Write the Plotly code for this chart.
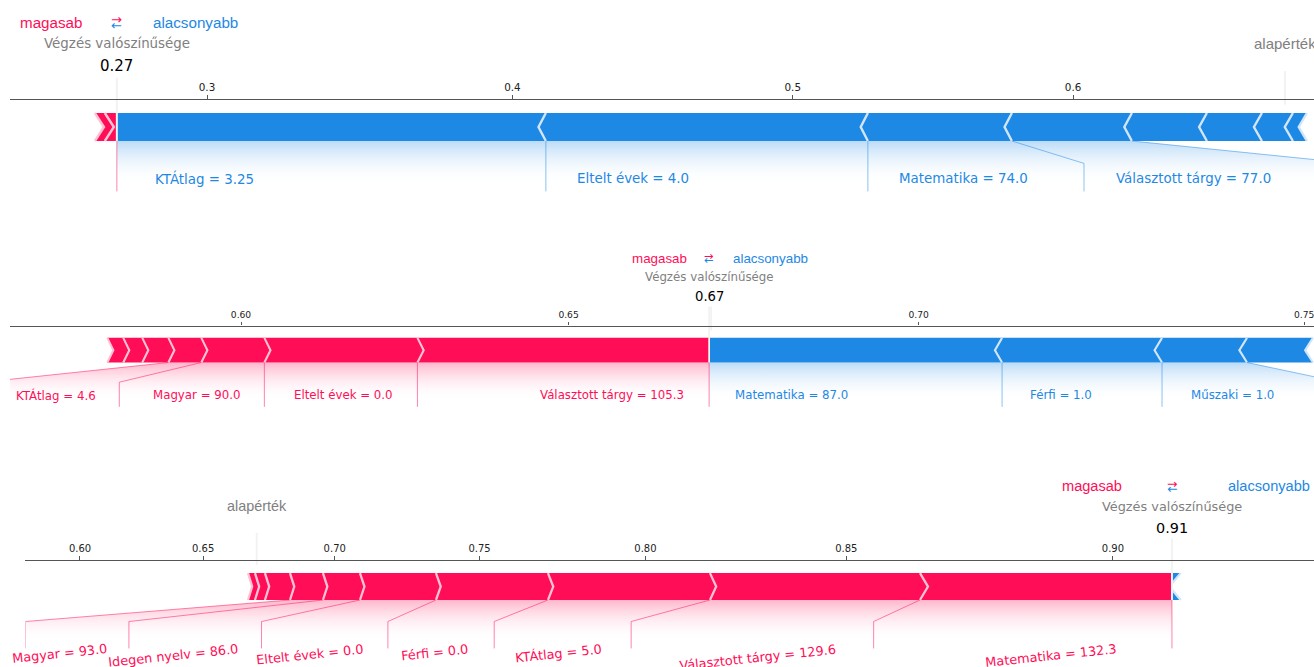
import numpy as np
import plotly.graph_objects as go

FIG_W, FIG_H = 1314, 667

# ---------------------------------------------------------------- data
BASE_VALUE = 0.712                      # expected model output (log-odds)
OUT_NAME = "Végzés valószínűsége"
BASE_NAME = "alapérték"
HIGHER_TEXT = "magasab"
LOWER_TEXT = "alacsonyabb"

# panel 1
p1_features = ["KTÁtlag", "Eltelt évek", "Matematika", "Választott tárgy", "Idegen nyelv",
               "Magyar", "Férfi", "Humán", "Műszaki", "Gazdasági"]
p1_values = ["3.25", "4.0", "74.0", "77.0", "", "", "", "", "", ""]
p1_shap = [-0.6206, -0.4658, -0.2083, -0.1736, -0.1085, -0.0796, -0.0448, -0.0203, 0.0174, 0.0144]
p1_ticks = ["0.2", "0.3", "0.4", "0.5", "0.6", "0.7"]

# panel 2
p2_features = ["Választott tárgy", "Eltelt évek", "Magyar", "KTÁtlag", "Idegen nyelv", "Humán",
               "Gazdasági", "Matematika", "Férfi", "Műszaki", "Természettudományi"]
p2_values = ["105.3", "0.0", "90.0", "4.6", "", "", "", "87.0", "1.0", "1.0", ""]
p2_shap = [0.1902, 0.0998, 0.0411, 0.0215, 0.0170, 0.0124, 0.0104, -0.1910, -0.1043, -0.0554, -0.0430]
p2_ticks = ["0.55", "0.60", "0.65", "0.70", "0.75"]

# panel 3
p3_features = ["Matematika", "Választott tárgy", "KTÁtlag", "Férfi", "Eltelt évek", "Idegen nyelv",
               "Magyar", "Humán", "Gazdasági", "Természettudományi", "Műszaki"]
p3_values = ["132.3", "129.6", "5.0", "0.0", "0.0", "86.0", "93.0", "", "", "", ""]
p3_shap = [0.4371, 0.3643, 0.2810, 0.1943, 0.1318, 0.0642, 0.0572, 0.0434, 0.0173, 0.0121, -0.0151]
p3_ticks = ["0.60", "0.65", "0.70", "0.75", "0.80", "0.85", "0.90", "0.95"]

# ---------------------------------------------------------------- layout / style
PANELS = [
    dict(features=p1_features, values=p1_values, shap=p1_shap, ticks=p1_ticks,
         ref_p=0.3, ref_px=207.0, ppu=691.3, y0=141.0, s=1.0, rot=0),
    dict(features=p2_features, values=p2_values, shap=p2_shap, ticks=p2_ticks,
         ref_p=0.6, ref_px=241.0, ppu=1533.7, y0=362.5, s=0.88, rot=0),
    dict(features=p3_features, values=p3_values, shap=p3_shap, ticks=p3_ticks,
         ref_p=0.6, ref_px=80.0, ppu=576.5, y0=600.0, s=0.96, rot=6),
]

PINK, PINK_LIGHT, PINK_LINE = "#FF0D57", "#FFC3D5", "rgba(255,13,87,0.5)"
BLUE, BLUE_LIGHT, BLUE_LINE = "#1E88E5", "#D1E6FA", "rgba(30,136,229,0.5)"
GREY_TXT = "#808080"
MEAS_F = 1.27
BAR_W = 0.1

DEJAVU = {" ": 651, ".": 651, "=": 1716, "a": 1255, "b": 1300, "c": 1126, "d": 1300, "e": 1260,
          "f": 721, "g": 1300, "h": 1298, "i": 569, "j": 569, "k": 1186, "l": 569, "m": 1995,
          "n": 1298, "o": 1253, "p": 1300, "q": 1300, "r": 842, "s": 1067, "t": 803, "u": 1298,
          "v": 1212, "w": 1675, "x": 1212, "y": 1212, "z": 1075, "á": 1255, "é": 1260, "í": 569,
          "ó": 1253, "ö": 1253, "ő": 1253, "ú": 1298, "ü": 1298, "ű": 1298, "A": 1401, "E": 1294,
          "F": 1178, "G": 1589, "H": 1540, "I": 604, "K": 1290, "M": 1767, "T": 1251, "V": 1401,
          "Á": 1401, "É": 1294}
for _d in "0123456789":
    DEJAVU[_d] = 1303


def text_w(txt, size):
    return sum(DEJAVU.get(c, 1250) for c in txt) / 2048.0 * size


def expit(x):
    return 1.0 / (1.0 + np.exp(-x))


def logit(p):
    return float(np.log(p / (1.0 - p)))


def side_labels(out_p, its, ps, kind, offset, total_effect, xlim, ppp, fs, pad, rot):
    sign = 1 if kind == "pos" else -1
    lines, texts = [], []
    start = pre = box_end = out_p
    if kind == "pos":
        lines.append([(out_p, 0.0), (out_p, -0.18)])
    for (e, v, n), pv in zip(its, ps):
        if total_effect <= 0 or abs(pv - pre) / total_effect < 0.05:
            break
        val = pv
        text = n if v == "" else f"{n} = {v}"
        tx = start - sign * offset
        w = text_w(text, fs)
        if rot:
            th = np.radians(rot)
            w = w * np.cos(th) + 1.164 * fs * np.sin(th)
        be_ = tx - sign * (w + pad) * MEAS_F / ppp
        if be_ > xlim[1]:
            break
        texts.append((tx, text))
        if sign * be_ > sign * val:
            lines.append([(val, 0.0), (val, -0.18)])
            start = box_end = val
        else:
            box_end = be_ - sign * offset
            lines.append([(val, 0.0), (box_end, -0.08), (box_end, -0.18)])
            start = box_end
        pre = pv
    shade = [(out_p, 0.0), (pre, 0.0), (box_end, -0.08), (box_end, -0.2), (out_p, -0.2)]
    return dict(lines=lines, texts=texts, shade=shade, box_end=box_end)


def bars(out_p, ps, kind, sep):
    polys, seps = [], []
    pre = out_p
    for i, pv in enumerate(ps):
        if kind == "pos":
            left, right = pv, pre
            pre = left
            ind = abs(sep)
            spos = left
        else:
            left, right = pre, pv
            pre = right
            ind = -abs(sep)
            spos = right
        if i == 0:
            if kind == "pos":
                pts = [(left, 0), (right, 0), (right, BAR_W), (left, BAR_W), (left + ind, BAR_W / 2)]
            else:
                pts = [(right, 0), (left, 0), (left, BAR_W), (right, BAR_W), (right + ind, BAR_W / 2)]
        else:
            pts = [(left, 0), (right, 0), (right + ind * 0.9, BAR_W / 2), (right, BAR_W),
                   (left, BAR_W), (left + ind * 0.9, BAR_W / 2)]
        polys.append(pts)
        seps.append([(spos, 0), (spos + ind, BAR_W / 2), (spos, BAR_W)])
    return polys, seps


def force_layout(g):
    out_L = BASE_VALUE + float(np.sum(g["shap"]))
    out_p = float(expit(out_L))
    base_p = float(expit(BASE_VALUE))
    items = list(zip(g["shap"], g["values"], g["features"]))
    neg = sorted([it for it in items if it[0] < 0], key=lambda it: it[0])
    pos = sorted([it for it in items if it[0] >= 0], key=lambda it: -it[0])
    neg_p = [float(v) for v in expit(out_L + np.cumsum([abs(it[0]) for it in neg]))] if neg else []
    pos_p = [float(v) for v in expit(out_L - np.cumsum([abs(it[0]) for it in pos]))] if pos else []
    total_neg = max(neg_p) - min(neg_p) if neg_p else 0.0
    total_pos = max(pos_p) - min(pos_p) if pos_p else 0.0
    offset = 0.04 * (total_neg + total_pos)
    padding = 0.2 * max(total_pos, total_neg)
    x0 = (min(min(pos_p), base_p) if pos_p else out_p) - padding
    x1 = (max(max(neg_p), base_p) if neg_p else out_p) + padding
    sep = (x1 - x0) / 200.0
    fs = 13.4 * g["s"]
    pad = 4.5 * g["s"]

    def run(axes_px):
        xlim = [x0, x1]
        res = {}
        for kind, its, ps in (("neg", neg, neg_p), ("pos", pos, pos_p)):
            ppp = axes_px / (xlim[1] - xlim[0])
            r = side_labels(out_p, its, ps, kind, offset, total_neg + total_pos, xlim, ppp,
                            fs, pad, g["rot"])
            if r["box_end"] < xlim[0]:
                xlim[0] = r["box_end"]
            if r["box_end"] > xlim[1]:
                xlim[1] = r["box_end"]
            res[kind] = r
        return res, xlim

    axes_px = g["ppu"] * (logit(x1) - logit(x0))
    for _ in range(25):
        res, xlim = run(axes_px)
        axes_px = g["ppu"] * (logit(xlim[1]) - logit(xlim[0]))
    nb, ns = bars(out_p, neg_p, "neg", sep)
    pb, pss = bars(out_p, pos_p, "pos", sep)
    return dict(out_p=out_p, base_p=base_p, offset=offset, xlim=xlim, labels=res,
                neg_bars=nb, neg_seps=ns, pos_bars=pb, pos_seps=pss, fs=fs)


fig = go.Figure()
annotations = []
layout_axes = {}

for i, g in enumerate(PANELS):
    sfx = "" if i == 0 else str(i + 1)
    xa, ya = "x" + sfx, "y" + sfx
    s = g["s"]
    ys = 280.0 * s
    y0 = g["y0"]
    L_ref = logit(g["ref_p"])

    def px_of(L, g=g, L_ref=L_ref):
        return g["ref_px"] + (L - L_ref) * g["ppu"]

    def L_of(px, g=g, L_ref=L_ref):
        return L_ref + (px - g["ref_px"]) / g["ppu"]

    F = force_layout(g)
    out_p, base_p = F["out_p"], F["base_p"]

    def tr(pts):
        return [logit(p) for p, _ in pts], [y for _, y in pts]

    common = dict(xaxis=xa, yaxis=ya, hoverinfo="skip", showlegend=False)

    # label shading
    for kind, col in (("neg", "rgba(30,136,229,0.3)"), ("pos", "rgba(255,13,87,0.3)")):
        r = F["labels"][kind]
        if abs(r["box_end"] - out_p) < 1e-9:
            continue
        x, y = tr(r["shade"])
        fig.add_trace(go.Scatter(x=x, y=y, mode="lines", line=dict(width=0), fill="toself",
                                 fillgradient=dict(type="vertical", start=-0.155, stop=0.0,
                                                   colorscale=[[0, "rgba(255,255,255,0)"], [1, col]]),
                                 **common))
    # bars + separators
    for polys, seps, col, lcol in ((F["neg_bars"], F["neg_seps"], BLUE, BLUE_LIGHT),
                                   (F["pos_bars"], F["pos_seps"], PINK, PINK_LIGHT)):
        for pts in polys:
            x, y = tr(pts)
            fig.add_trace(go.Scatter(x=x, y=y, mode="lines", line=dict(width=0), fill="toself",
                                     fillcolor=col, **common))
        for pts in seps:
            x, y = tr(pts)
            fig.add_trace(go.Scatter(x=x, y=y, mode="lines", line=dict(width=2.4 * s, color=lcol),
                                     **common))
    # leader lines
    for kind, col in (("neg", BLUE_LINE), ("pos", PINK_LINE)):
        for pts in F["labels"][kind]["lines"]:
            x, y = tr(pts)
            fig.add_trace(go.Scatter(x=x, y=y, mode="lines", line=dict(width=1, color=col), **common))
    # output / base lines
    Lo, Lb = logit(out_p), logit(base_p)
    fig.add_trace(go.Scatter(x=[Lb, Lb], y=[0.13, 0.25], mode="lines",
                             line=dict(width=2 * s, color="#F2F2F2"), **common))
    fig.add_trace(go.Scatter(x=[Lo, Lo], y=[0.0, 0.24], mode="lines",
                             line=dict(width=2 * s, color="#F2F2F2"), **common))

    # feature labels
    fs = F["fs"]
    for kind, col, xanc in (("neg", BLUE, "left"), ("pos", PINK, "right")):
        for tx, text in F["labels"][kind]["texts"]:
            a = dict(x=logit(tx), y=-0.15, xref=xa, yref=ya, text=text, showarrow=False,
                     xanchor=xanc, borderpad=0,
                     font=dict(family="DejaVu Sans", size=fs, color=col))
            if g["rot"]:
                a.update(textangle=-g["rot"], yanchor="top")
            else:
                a.update(yanchor="middle", yshift=0.346 * fs)
            annotations.append(a)

    # higher / lower legend
    off = F["offset"]
    lfs = 15.2 * s
    annotations.append(dict(x=logit(out_p - off), y=0.405, xref=xa, yref=ya, text=HIGHER_TEXT,
                            showarrow=False, xanchor="right", yanchor="middle", yshift=0.346 * lfs,
                            xshift=4 * s, borderpad=0,
                            font=dict(family="Liberation Sans", size=lfs, color=PINK)))
    annotations.append(dict(x=logit(out_p + off), y=0.405, xref=xa, yref=ya, text=LOWER_TEXT,
                            showarrow=False, xanchor="left", yanchor="middle", yshift=0.346 * lfs,
                            xshift=-2 * s, borderpad=0,
                            font=dict(family="Liberation Sans", size=lfs, color=BLUE)))
    annotations.append(dict(x=Lo, y=121.5 / 280.0, xref=xa, yref=ya, text="→", showarrow=False,
                            xanchor="center", yanchor="middle", borderpad=0,
                            font=dict(family="DejaVu Sans", size=13 * s, color=PINK)))
    annotations.append(dict(x=Lo, y=116.0 / 280.0, xref=xa, yref=ya, text="←", showarrow=False,
                            xanchor="center", yanchor="middle", borderpad=0,
                            font=dict(family="DejaVu Sans", size=13 * s, color=BLUE)))
    # base value label
    bfs = 15.0 * s
    annotations.append(dict(x=Lb, y=0.33, xref=xa, yref=ya, text=BASE_NAME, showarrow=False,
                            xanchor="center", yanchor="middle", yshift=0.346 * bfs, borderpad=0,
                            font=dict(family="Liberation Sans", size=bfs, color=GREY_TXT)))
    # output name + value
    nfs = 13.4 * s
    annotations.append(dict(x=Lo, y=0.33, xref=xa, yref=ya, text=OUT_NAME, showarrow=False,
                            xanchor="center", yanchor="middle", yshift=0.346 * nfs, borderpad=2,
                            bgcolor="white",
                            font=dict(family="DejaVu Sans", size=nfs, color=GREY_TXT)))
    vfs = 15.0 * s
    annotations.append(dict(x=Lo, y=0.25, xref=xa, yref=ya, text="{0:.2f}".format(out_p),
                            showarrow=False, xanchor="center", yanchor="middle",
                            yshift=0.346 * vfs, borderpad=2, bgcolor="white",
                            font=dict(family="DejaVu Sans", size=vfs, color="#000000")))

    # axes
    left_px = max(10.0, px_of(logit(F["xlim"][0])))
    right_px = min(float(FIG_W), px_of(logit(F["xlim"][1])))
    layout_axes["xaxis" + sfx] = dict(
        domain=[left_px / FIG_W, right_px / FIG_W], range=[L_of(left_px), L_of(right_px)],
        anchor="free", position=1.0 - (y0 - 0.15 * ys) / FIG_H, side="top",
        showline=True, linecolor="#555555", linewidth=1.1,
        ticks="outside", ticklen=4 * s, tickwidth=1, tickcolor="#555555",
        tickmode="array", tickvals=[logit(float(t)) for t in g["ticks"]], ticktext=g["ticks"],
        ticklabeloverflow="allow",
        tickfont=dict(family="DejaVu Sans", size=10.4 * s, color="#222222"),
        showgrid=False, zeroline=False, fixedrange=True)
    layout_axes["yaxis" + sfx] = dict(
        domain=[0, 1], range=[-(FIG_H - y0) / ys, y0 / ys], visible=False,
        anchor=xa, fixedrange=True)

fig.update_layout(width=FIG_W, height=FIG_H, margin=dict(l=0, r=0, t=0, b=0),
                  paper_bgcolor="white", plot_bgcolor="rgba(0,0,0,0)", showlegend=False,
                  annotations=annotations, **layout_axes)
fig.write_html("out.html", config={"displayModeBar": False})
